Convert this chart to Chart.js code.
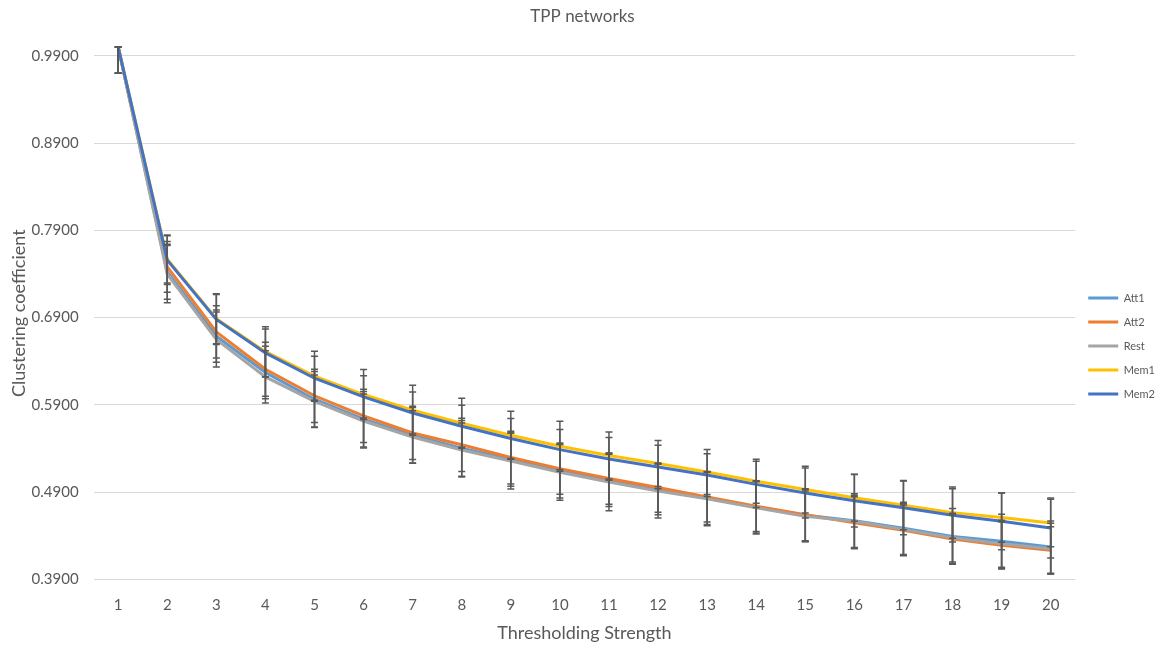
<!DOCTYPE html>
<html>
<head>
<meta charset="utf-8">
<title>TPP networks</title>
<script src="https://cdn.jsdelivr.net/npm/chart.js@4.4.1/dist/chart.umd.min.js"></script>
<style>
  html, body { margin: 0; padding: 0; background: #fff; }
  #wrap { width: 1165px; height: 648px; }
</style>
</head>
<body>
<div id="wrap"><canvas id="myChart"></canvas></div>
<script>
var xValues = ["1", "2", "3", "4", "5", "6", "7", "8", "9", "10", "11", "12", "13", "14", "15", "16", "17", "18", "19", "20"];
var yTicks = [0.39, 0.49, 0.59, 0.69, 0.79, 0.89, 0.99];

// mean clustering coefficient per threshold
var att1 = [1.0000, 0.7424, 0.6687, 0.6270, 0.5964, 0.5735, 0.5551, 0.5402, 0.5273, 0.5142, 0.5035, 0.4932, 0.4829, 0.4731, 0.4634, 0.4571, 0.4485, 0.4393, 0.4336, 0.4270];
var att2 = [1.0000, 0.7481, 0.6736, 0.6308, 0.6004, 0.5773, 0.5578, 0.5442, 0.5296, 0.5169, 0.5055, 0.4952, 0.4844, 0.4737, 0.4640, 0.4548, 0.4462, 0.4362, 0.4290, 0.4233];
var rest = [1.0000, 0.7398, 0.6649, 0.6220, 0.5941, 0.5715, 0.5532, 0.5383, 0.5257, 0.5127, 0.5016, 0.4913, 0.4825, 0.4720, 0.4622, 0.4565, 0.4473, 0.4378, 0.4309, 0.4252];
var mem1 = [1.0000, 0.7570, 0.6887, 0.6509, 0.6228, 0.6018, 0.5838, 0.5689, 0.5551, 0.5425, 0.5319, 0.5227, 0.5131, 0.5024, 0.4929, 0.4835, 0.4749, 0.4665, 0.4608, 0.4546];
var mem2 = [1.0000, 0.7558, 0.6878, 0.6495, 0.6205, 0.5991, 0.5807, 0.5655, 0.5514, 0.5387, 0.5280, 0.5188, 0.5096, 0.4989, 0.4890, 0.4801, 0.4722, 0.4634, 0.4565, 0.4488];

// standard deviations (error bars)
var att1Err = [0.030, 0.0315, 0.0300, 0.0300, 0.0317, 0.0318, 0.0318, 0.0320, 0.0305, 0.0310, 0.0300, 0.0290, 0.0300, 0.0300, 0.0300, 0.0310, 0.0300, 0.0318, 0.0310, 0.0300];
var att2Err = [0.030, 0.0290, 0.0300, 0.0310, 0.0305, 0.0305, 0.0305, 0.0305, 0.0302, 0.0294, 0.0294, 0.0282, 0.0287, 0.0287, 0.0298, 0.0298, 0.0290, 0.0280, 0.0270, 0.0270];
var restErr = [0.030, 0.0327, 0.0315, 0.0300, 0.0300, 0.0310, 0.0300, 0.0310, 0.0320, 0.0320, 0.0330, 0.0310, 0.0310, 0.0300, 0.0290, 0.0300, 0.0295, 0.0280, 0.0270, 0.0290];
var mem1Err = [0.030, 0.0275, 0.0287, 0.0287, 0.0287, 0.0287, 0.0287, 0.0287, 0.0275, 0.0287, 0.0270, 0.0264, 0.0257, 0.0252, 0.0267, 0.0270, 0.0279, 0.0294, 0.0282, 0.0272];
var mem2Err = [0.030, 0.0280, 0.0287, 0.0275, 0.0252, 0.0241, 0.0241, 0.0241, 0.0230, 0.0230, 0.0245, 0.0249, 0.0245, 0.0264, 0.0287, 0.0300, 0.0310, 0.0306, 0.0325, 0.0344];

var font = "Lato, 'Open Sans', sans-serif";
var grey = "#595959";

function series(label, data, errors, color, order) {
  return {
    label: label,
    data: data,
    errors: errors,
    borderColor: color,
    backgroundColor: color,
    pointBorderColor: color,
    pointBackgroundColor: color,
    pointBorderWidth: 3,
    borderWidth: 3,
    pointRadius: 0,
    pointHoverRadius: 0,
    tension: 0,
    fill: false,
    order: order
  };
}

// vertical error bars with caps, drawn over the lines
const errorBars = {
  id: "errorBars",
  afterDatasetsDraw(chart) {
    const ctx = chart.ctx, xs = chart.scales.x, ys = chart.scales.y, area = chart.chartArea;
    ctx.save();
    ctx.strokeStyle = grey;
    ctx.lineWidth = 1.5;
    chart.data.datasets.forEach(function (ds) {
      ds.errors.forEach(function (e, i) {
        const px = xs.getPixelForValue(i);
        const top = Math.max(ys.getPixelForValue(ds.data[i] + e), area.top);
        const bot = Math.min(ys.getPixelForValue(ds.data[i] - e), area.bottom);
        ctx.beginPath();
        ctx.moveTo(px, top); ctx.lineTo(px, bot);
        ctx.moveTo(px - 3.5, top); ctx.lineTo(px + 3.5, top);
        ctx.moveTo(px - 3.5, bot); ctx.lineTo(px + 3.5, bot);
        ctx.stroke();
      });
    });
    ctx.restore();
  }
};

new Chart("myChart", {
  type: "line",
  data: {
    labels: xValues,
    datasets: [
      series("Att1", att1, att1Err, "#5B9BD5", 5),
      series("Att2", att2, att2Err, "#ED7D31", 4),
      series("Rest", rest, restErr, "#A5A5A5", 3),
      series("Mem1", mem1, mem1Err, "#FFC000", 2),
      series("Mem2", mem2, mem2Err, "#4472C4", 1)
    ]
  },
  plugins: [errorBars],
  options: {
    responsive: true,
    maintainAspectRatio: false,
    animation: false,
    events: [],
    plugins: {
      title: {
        display: true,
        text: "TPP networks",
        color: grey,
        font: { family: font, size: 17, weight: "normal" },
        padding: { top: 6, bottom: 20.6 }
      },
      legend: {
        position: "right",
        // blank title only pushes the entries down a little
        title: { display: true, text: " ", padding: 16, font: { size: 10 } },
        labels: {
          usePointStyle: true,
          pointStyle: "line",
          pointStyleWidth: 30,
          boxHeight: 10,
          padding: 13,
          color: grey,
          font: { family: font, size: 11 },
          sort: function (a, b) { return a.datasetIndex - b.datasetIndex; }
        }
      },
      tooltip: { enabled: false }
    },
    scales: {
      x: {
        offset: true,
        grid: { display: false, drawTicks: false },
        border: { display: false },
        ticks: { color: grey, padding: 17, font: { family: font, size: 15 } },
        title: {
          display: true,
          text: "Thresholding Strength",
          color: grey,
          font: { family: font, size: 18 },
          padding: { top: -9, bottom: 4 }
        }
      },
      y: {
        min: 0.39,
        max: 1.0,
        afterBuildTicks: function (axis) {
          axis.ticks = yTicks.map(function (v) { return { value: v }; });
        },
        grid: { color: "#d9d9d9", lineWidth: 1, drawTicks: false },
        border: { display: false },
        ticks: {
          color: grey,
          padding: 15,
          font: { family: font, size: 15 },
          callback: function (v) { return Number(v).toFixed(4); }
        },
        title: {
          display: true,
          text: "Clustering coefficient",
          color: grey,
          font: { family: font, size: 18 },
          padding: { top: 8, bottom: -13 }
        }
      }
    }
  }
});
</script>
</body>
</html>
